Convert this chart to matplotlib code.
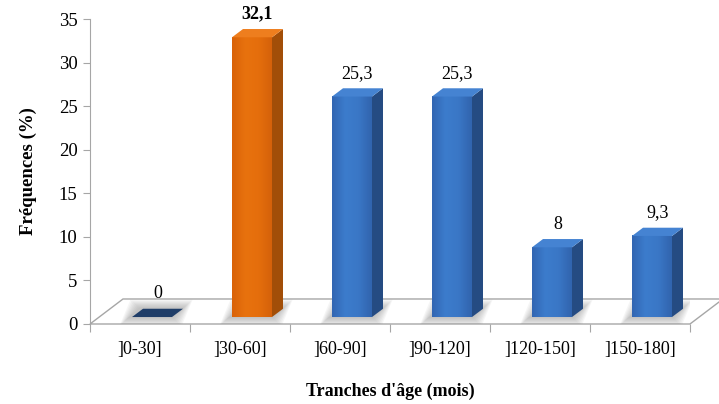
import numpy as np
import matplotlib.pyplot as plt
from matplotlib.patches import Polygon
from matplotlib.colors import LinearSegmentedColormap

plt.rcParams['font.family'] = ['Liberation Serif', 'DejaVu Serif']

categories = [']0-30]', ']30-60]', ']60-90]', ']90-120]', ']120-150]', ']150-180]']
frequences = [0, 32.1, 25.3, 25.3, 8, 9.3]
value_labels = ['0', '32,1', '25,3', '25,3', '8', '9,3']
modal = 1  # classe modale, en orange et en gras

# geometrie "3D" (x en categories, y en %)
floor_dx, floor_dy = 0.33, 2.87
base = 0.8
bar_left, bar_w = -0.08, 0.40
depth_dx, depth_dy = 0.11, 0.95

blue = dict(front=['#3266B2', '#3C7CCC', '#3A77C6', '#3164AE'], side='#254B82', top='#4583D2', flat='#1F3D68')
orange = dict(front=['#D96208', '#E8720E', '#E56E0C', '#D5610A'], side='#A24E08', top='#EE7E1E', flat='#A24E08')

fig = plt.figure(figsize=(7.19, 4.04), dpi=100)
ax = fig.add_axes([90 / 719, 80 / 404, 600 / 719, 305 / 404])

grey = '#A6A6A6'

# plancher
floor = Polygon([(0, 0), (6, 0), (6 + floor_dx, floor_dy), (floor_dx, floor_dy)],
                closed=True, facecolor='white', edgecolor=grey, lw=1.0, zorder=1, clip_on=False)
ax.add_patch(floor)

for i, v in enumerate(frequences):
    c = i + 0.5
    col = orange if i == modal else blue
    x0, x1 = c + bar_left, c + bar_left + bar_w

    # ombre douce sous la barre
    for k in range(8, 0, -1):
        ex, ey = 0.012 * k, 0.13 * k
        shadow = Polygon([(x0 - ex - 0.03, base - ey), (x1 + ex, base - ey),
                          (x1 + depth_dx + ex, base + depth_dy + ey),
                          (x0 + depth_dx - ex - 0.03, base + depth_dy + ey)],
                         closed=True, facecolor='#808080', edgecolor='none',
                         alpha=0.07, zorder=2)
        ax.add_patch(shadow)

    top_y = base + v
    if v == 0:
        ax.add_patch(Polygon([(x0, base), (x1, base), (x1 + depth_dx, base + depth_dy),
                              (x0 + depth_dx, base + depth_dy)],
                             closed=True, facecolor=col['flat'], edgecolor='none', zorder=3))
    else:
        # face avant en degrade
        cmap = LinearSegmentedColormap.from_list('f%d' % i, col['front'])
        grad = np.linspace(0, 1, 64).reshape(1, -1)
        ax.imshow(grad, extent=[x0, x1, base, top_y], aspect='auto', cmap=cmap,
                  interpolation='bicubic', zorder=4)
        # face laterale
        ax.add_patch(Polygon([(x1, base), (x1 + depth_dx, base + depth_dy),
                              (x1 + depth_dx, top_y + depth_dy), (x1, top_y)],
                             closed=True, facecolor=col['side'], edgecolor='none', zorder=4))
        # dessus
        ax.add_patch(Polygon([(x0, top_y), (x1, top_y), (x1 + depth_dx, top_y + depth_dy),
                              (x0 + depth_dx, top_y + depth_dy)],
                             closed=True, facecolor=col['top'], edgecolor='none', zorder=4))

    ax.text(c + bar_left + bar_w / 2 + depth_dx / 2, base + v + depth_dy + 1.7, value_labels[i],
            ha='center', va='center', fontsize=13,
            fontweight='bold' if i == modal else 'normal', zorder=6)

ax.set_xlim(0, 6)
ax.set_ylim(0, 35)

for s in ['top', 'right', 'bottom']:
    ax.spines[s].set_visible(False)
ax.spines['left'].set_color(grey)

ax.set_yticks(np.arange(0, 36, 5))
ax.tick_params(axis='y', direction='out', length=5, color=grey, labelsize=13.5, pad=4)

ax.set_xticks(np.arange(0, 7, 1))
ax.set_xticklabels([])
ax.set_xticks(np.arange(6) + 0.5, minor=True)
ax.set_xticklabels(categories, minor=True)
ax.tick_params(axis='x', which='major', direction='out', length=6, color=grey)
ax.tick_params(axis='x', which='minor', length=0, labelsize=13, pad=12)

ax.set_ylabel('Fréquences (%)', fontsize=13.5, fontweight='bold', labelpad=16)
ax.set_xlabel("Tranches d'âge (mois)", fontsize=13, fontweight='bold', labelpad=18)

fig.savefig('out.png', dpi=100)
